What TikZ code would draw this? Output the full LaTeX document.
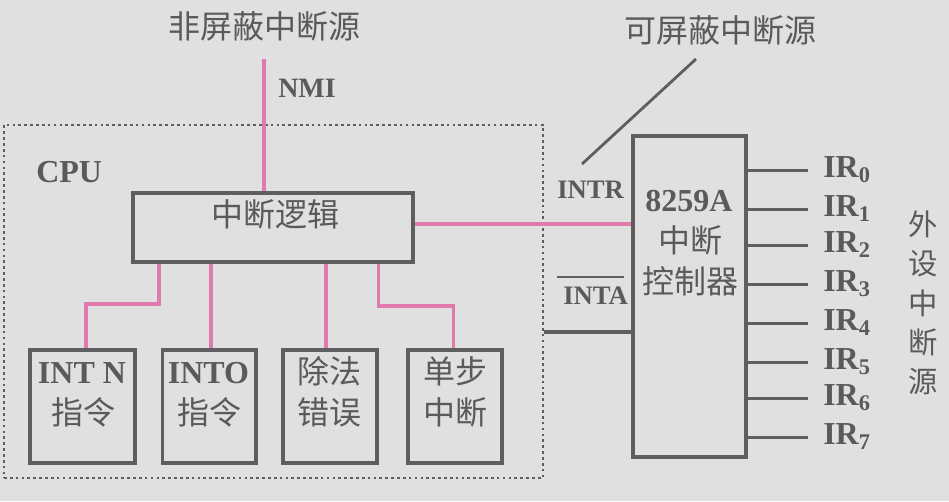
\documentclass[tikz,border=0pt]{standalone}
\usepackage{fontspec}
\setmainfont{Liberation Serif}
\newfontfamily\cjk{Noto Sans CJK SC}
\definecolor{bg}{HTML}{E0E0E0}
\definecolor{ln}{HTML}{5E5E5E}
\definecolor{pk}{HTML}{E07AAC}
\definecolor{tx}{HTML}{5A5A5A}
\begin{document}
\begin{tikzpicture}[x=0.75pt,y=-0.75pt,
  box/.style={draw=ln,line width=2.6pt,inner sep=0,fill=none},
  dotbox/.style={draw=ln,line width=2pt,dash pattern=on 2pt off 2.4pt,inner sep=0},
  pline/.style={draw=pk,line width=2.3pt},
  gline/.style={draw=ln,line width=2.5pt},
  zh/.style={text=tx,font=\cjk\fontsize{24}{28}\selectfont,inner sep=0},
  lat/.style={text=tx,font=\bfseries\fontsize{24}{28}\selectfont,inner sep=0},
  latsm/.style={text=tx,font=\bfseries\fontsize{20}{24}\selectfont,inner sep=0},
]
\fill[bg] (0,0) rectangle (949,501);
\useasboundingbox (0,0) rectangle (949,501);

% boxes
\node[dotbox,minimum width=404.25pt,minimum height=264.75pt] (cpu) at (273.5,301.5) {};
\node[box,minimum width=210pt,minimum height=51.75pt] (logic) at (273,227.5) {};
\node[box,minimum width=84.75pt,minimum height=240.75pt] (pic) at (689.5,296.5) {};
\node[box,minimum width=78.75pt,minimum height=84.75pt] (b1) at (82.5,406.5) {};
\node[box,minimum width=70.1pt,minimum height=84.75pt] (b2) at (209.25,406.5) {};
\node[box,minimum width=70.5pt,minimum height=84.75pt] (b3) at (330,406.5) {};
\node[box,minimum width=70.5pt,minimum height=84.75pt] (b4) at (455,406.5) {};

% connectors
\coordinate (nmitop) at (264,59);
\draw[pline] (nmitop) -- (nmitop |- logic.north);
\draw[pline] (logic.east |- 0,224) -- (pic.west |- 0,224);
\draw[gline] (cpu.east |- 0,332) -- (pic.west |- 0,332);
\coordinate (d1) at (582,164);
\coordinate (d2) at (696,59);
\draw[gline,line width=2.1pt] (d1) -- (d2);
\draw[pline] (logic.south -| 159,0) -- (159,304) -| (b1.north -| 86,0);
\draw[pline] (logic.south -| 211,0) -- (b2.north -| 211,0);
\draw[pline] (logic.south -| 326,0) -- (b3.north -| 326,0);
\draw[pline] (logic.south -| 378.6,0) -- (378.6,306) -| (b4.north -| 453.6,0);

\foreach \y [count=\i from 0] in {170.3,209.3,245.3,284.3,323.3,362.3,398.3,437.3} {
  \coordinate (ir\i) at (808,\y);
  \draw[gline] (pic.east |- ir\i) -- (ir\i);
  \node[lat,anchor=base west] (irl\i) at (823,\y+7.5) {IR\textsubscript{\i}};
}

% texts
\node[zh] (t1) at (264,26) {非屏蔽中断源};
\node[zh] (t2) at (720,30) {可屏蔽中断源};
\node[lat,font=\bfseries\fontsize{21}{24}\selectfont,anchor=base west] (nmi) at (278,97) {NMI};
\node[lat,anchor=base west] (cpul) at (36,182) {CPU};
\node[zh] (lt) at (275,214) {中断逻辑};
\node[lat,anchor=base] (b1a) at (82,383) {INT N};
\node[zh] (b1b) at (83,412) {指令};
\node[lat,anchor=base] (b2a) at (208.5,383) {INTO};
\node[zh] (b2b) at (209,412) {指令};
\node[zh] (b3a) at (329.5,371) {除法};
\node[zh] (b3b) at (329.5,412) {错误};
\node[zh] (b4a) at (455,371) {单步};
\node[zh] (b4b) at (455,412) {中断};
\node[latsm,anchor=base west] (intr) at (557,198) {INTR};
\node[latsm,anchor=base west] (inta) at (563,304) {INTA};
\draw[ln,line width=1.6pt] (557,277) -- (624,277);
\node[lat,anchor=base] (pa) at (689,211) {8259A};
\node[zh] (pb) at (690,240) {中断};
\node[zh] (pc) at (690,281) {控制器};
\foreach \c/\yy [count=\k] in {外/224,设/264,中/303,断/342,源/382} {
  \node[zh,font=\cjk\fontsize{22}{26}\selectfont] (v\k) at (923,\yy) {\c};
}
\end{tikzpicture}
\end{document}
